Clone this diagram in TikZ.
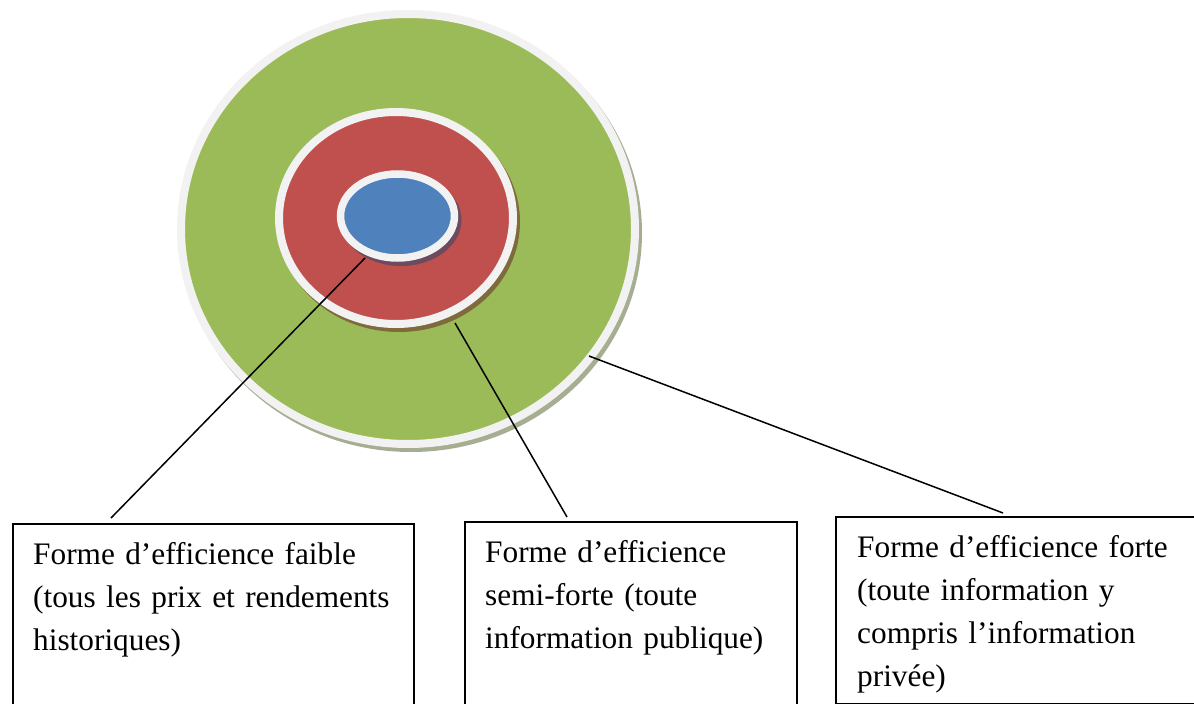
\documentclass[tikz,border=0pt]{standalone}
\usepackage{fontspec}
\setmainfont{Liberation Serif}[Ligatures=CommonOff]
\usetikzlibrary{shapes.geometric}
\definecolor{ringgreen}{HTML}{9BBB59}
\definecolor{ringred}{HTML}{C0504D}
\definecolor{ringblue}{HTML}{4F81BD}
\definecolor{ringwhite}{HTML}{F2F2F2}
\definecolor{shgreen}{HTML}{A6AE92}
\definecolor{shred}{HTML}{7F6A3C}
\definecolor{shblue}{HTML}{6E4A5E}
\tikzset{
  ring/.style={ellipse, inner sep=0pt, outer sep=0pt, draw=ringwhite},
  shade/.style={ellipse, inner sep=0pt, outer sep=0pt},
  infobox/.style={draw=black, line width=1.7pt, rectangle, inner sep=0pt, anchor=north west},
  boxtext/.style={anchor=base west, inner sep=0pt, align=left, text width=#1,
    font=\fontsize{31.3}{43}\selectfont},
  leader/.style={draw=black, line width=1.5pt}
}
\begin{document}
\begin{tikzpicture}[x=1pt,y=-1pt]
\useasboundingbox (0,0) rectangle (1194,704);
\clip (0,0) rectangle (1194,704);
\fill[white] (0,0) rectangle (1194,704);
% outer green ring
\node[shade, fill=shgreen, minimum width=462, minimum height=438] (gsh) at (411,233) {};
\node[ring, fill=ringgreen, line width=8pt, minimum width=454, minimum height=430] (green) at (408,229) {};
% red ring
\node[shade, fill=shred, minimum width=242, minimum height=220] (rsh) at (399,222) {};
\node[ring, fill=ringred, line width=8pt, minimum width=234, minimum height=212] (red) at (396,218) {};
% blue core
\node[shade, fill=shblue, minimum width=121, minimum height=92] (bsh) at (401,220) {};
\node[ring, fill=ringblue, line width=7.5pt, minimum width=114, minimum height=84] (blue) at (397.5,216) {};
% boxes
\node[infobox, minimum width=401, minimum height=220] (b1) at (12,523) {};
\node[infobox, minimum width=332, minimum height=220] (b2) at (464,521) {};
\node[infobox, minimum width=420, minimum height=187] (b3) at (835,516) {};
% texts
\node[boxtext=370pt] (t1) at (33,564) {Forme d’efficience faible\\(tous les prix et rendements\\historiques)};
\node[boxtext=300pt] (t2) at (485,562) {Forme d’efficience\\semi-forte (toute\\information publique)};
\node[boxtext=330pt] (t3) at (857,557) {Forme d’efficience forte\\(toute information y\\compris l’information\\privée)};
% connector end points
\coordinate (s1) at (365,258);
\coordinate (s2) at (455,323);
\coordinate (s3) at (589,356);
\coordinate (e1) at ([xshift=99pt,yshift=5pt]b1.north west);
\coordinate (e2) at ([xshift=103pt,yshift=4pt]b2.north west);
\coordinate (e3) at ([xshift=168pt,yshift=3pt]b3.north west);
\draw[leader] (s1) -- (e1);
\draw[leader] (s2) -- (e2);
\draw[leader] (s3) -- (e3);
\end{tikzpicture}
\end{document}
